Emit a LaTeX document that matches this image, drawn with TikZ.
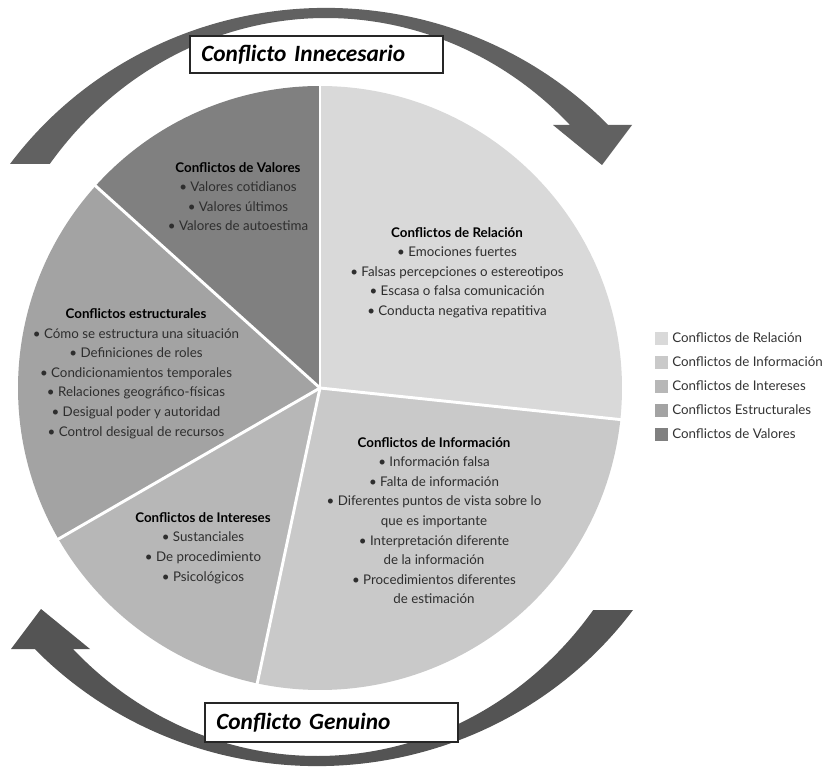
\documentclass[tikz,border=0pt]{standalone}
\usepackage{fontspec}
\setmainfont{Lato}
\newfontfamily\boxfont[WordSpace=0.7]{Carlito}
\begin{document}
\begin{tikzpicture}[x=0.75pt,y=-0.75pt,
  lbl/.style={font=\fontsize{10}{14.7}\selectfont, align=center, inner sep=0pt, text=black!82},
  tbox/.style={draw=black!85, line width=0.8pt, fill=white, font=\boxfont\fontsize{17.5}{20}\selectfont\bfseries\itshape,
    minimum width=189.75pt, inner xsep=8.5pt, text width=172.75pt, align=left},
  sq/.style={minimum size=9.75pt, inner sep=0pt},
  lgt/.style={anchor=west, inner sep=0pt, font=\fontsize{10}{12}\selectfont, text=black!80},
  sep/.style={white, line width=2.2pt},
  arrowfill/.style={fill=black!62}
]
\definecolor{cRel}{HTML}{D9D9D9}
\definecolor{cInf}{HTML}{C9C9C9}
\definecolor{cInt}{HTML}{B7B7B7}
\definecolor{cEst}{HTML}{A3A3A3}
\definecolor{cVal}{HTML}{808080}
\useasboundingbox (0,0) rectangle (826,767);
\fill[white] (0,0) rectangle (826,767);

\coordinate (O) at (320,388);
% pie slices
\fill[cRel] (O) -- ++(-90:302) arc[start angle=-90,end angle=6,radius=302] -- cycle;
\fill[cInf] (O) -- ++(6:302) arc[start angle=6,end angle=102,radius=302] -- cycle;
\fill[cInt] (O) -- ++(102:302) arc[start angle=102,end angle=150,radius=302] -- cycle;
\fill[cEst] (O) -- ++(150:302) arc[start angle=150,end angle=222,radius=302] -- cycle;
\fill[cVal] (O) -- ++(222:302) arc[start angle=222,end angle=270,radius=302] -- cycle;
\foreach \a in {-90,6,102,150,222} \draw[sep] (O) -- ++(\a:303);

% curved arrows
\fill[arrowfill] (10,164) arc[start angle=216.1,end angle=316.2,x radius=391,y radius=380]
  -- (632,125) -- (602,165) -- (553,125) -- (570,125)
  arc[start angle=314.7,end angle=217.26,x radius=347,y radius=370] -- cycle;
\begin{scope}[rotate around={180:(321.5,387)}]
\fill[arrowfill, fill=black!67] (10,164) arc[start angle=216.1,end angle=316.2,x radius=391,y radius=380]
  -- (632,125) -- (602,165) -- (553,125) -- (570,125)
  arc[start angle=314.7,end angle=217.26,x radius=347,y radius=370] -- cycle;
\end{scope}

% title boxes
\node[tbox, minimum height=27.75pt] (inn) at (316.5,54.5) {Conflicto Innecesario};
\node[tbox, minimum height=29.25pt] (gen) at (331.5,722.5) {Conflicto Genuino};

% slice labels
\node[lbl] (val) at (238,196.5) {\textcolor{black}{\textbf{Conflictos de Valores}}\\• Valores cotidianos\\• Valores últimos\\• Valores de autoestima};
\node[lbl] (rel) at (457,272.5) {\textcolor{black}{\textbf{Conflictos de Relación}}\\• Emociones fuertes\\• Falsas percepciones o estereotipos\\• Escasa o falsa comunicación\\• Conducta negativa repatitiva};
\node[lbl] (est) at (136,373.5) {\textcolor{black}{\textbf{Conflictos estructurales}}\\• Cómo se estructura una situación\\• Definiciones de roles\\• Condicionamientos temporales\\• Relaciones geográfico-físicas\\• Desigual poder y autoridad\\• Control desigual de recursos};
\node[lbl] (int) at (203,548) {\textcolor{black}{\textbf{Conflictos de Intereses}}\\• Sustanciales\\• De procedimiento\\• Psicológicos};
\node[lbl] (inf) at (434,520.5) {\textcolor{black}{\textbf{Conflictos de Información}}\\• Información falsa\\• Falta de información\\• Diferentes puntos de vista sobre lo\\que es importante\\• Interpretación diferente\\de la información\\• Procedimientos diferentes\\de estimación};

% legend
\node[sq, fill=cRel] (lg1) at (661.5,338) {};
\node[sq, fill=cInf] (lg2) at (661.5,362) {};
\node[sq, fill=cInt] (lg3) at (661.5,386) {};
\node[sq, fill=cEst] (lg4) at (661.5,410) {};
\node[sq, fill=cVal] (lg5) at (661.5,434) {};
\node[lgt] (lt1) at (672,338) {Conflictos de Relación};
\node[lgt] (lt2) at (672,362) {Conflictos de Información};
\node[lgt] (lt3) at (672,386) {Conflictos de Intereses};
\node[lgt] (lt4) at (672,410) {Conflictos Estructurales};
\node[lgt] (lt5) at (672,434) {Conflictos de Valores};
\end{tikzpicture}
\end{document}
